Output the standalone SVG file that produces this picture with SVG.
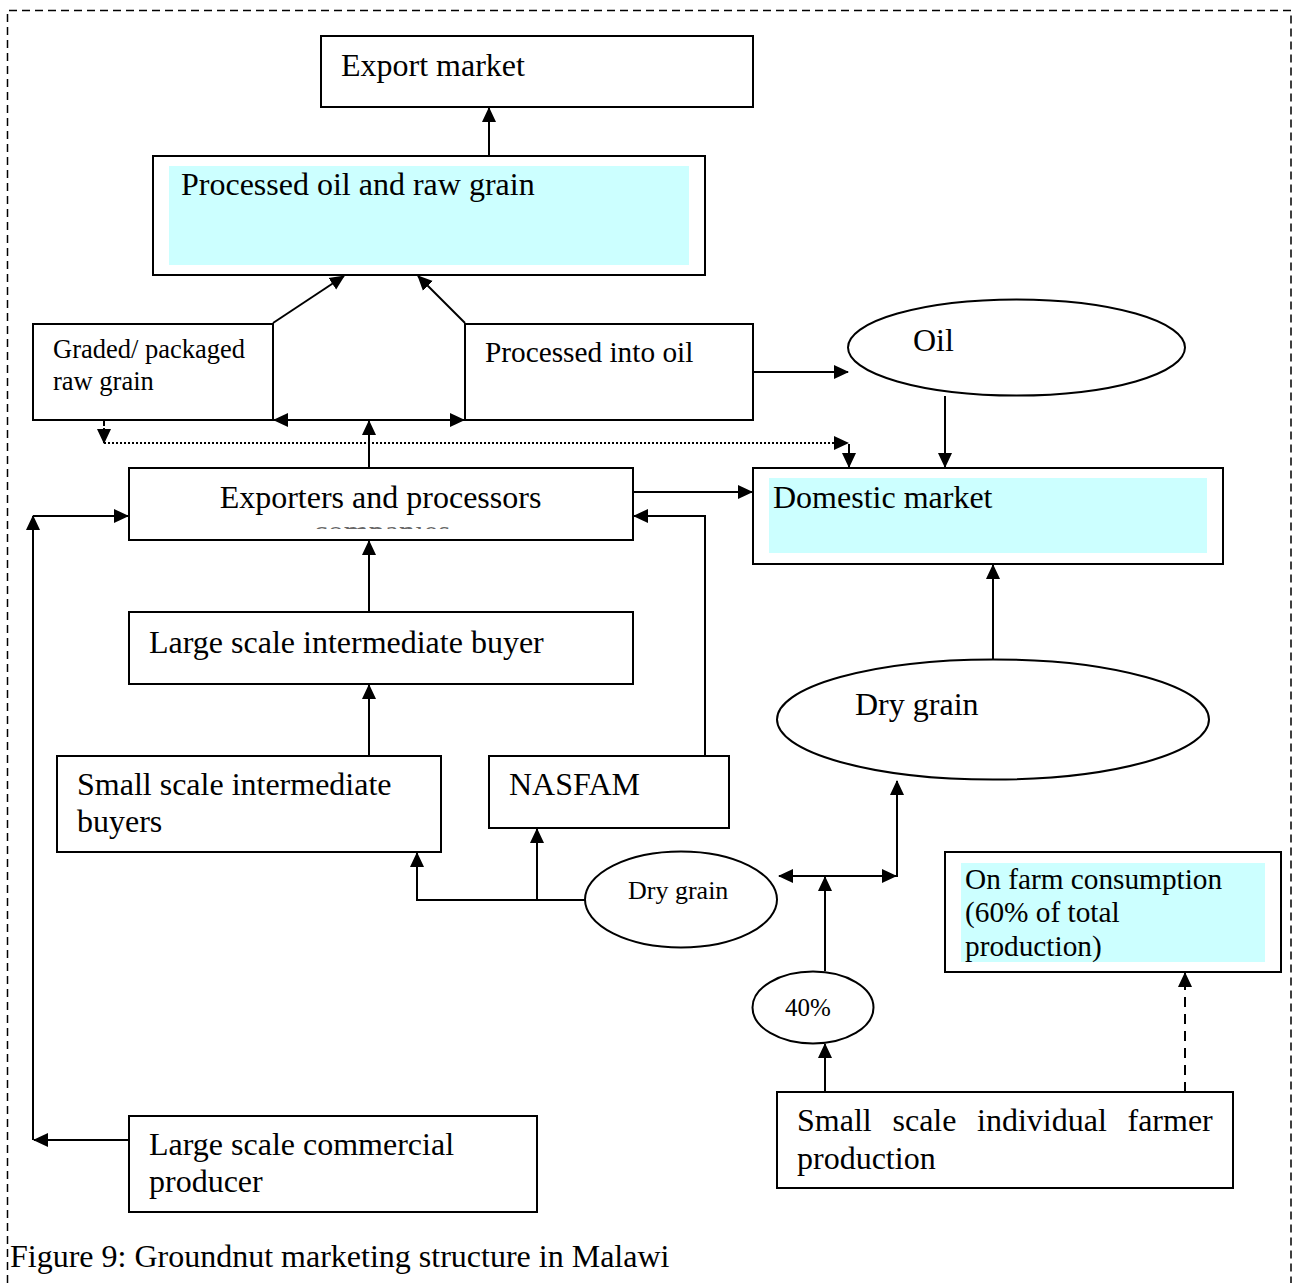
<svg xmlns="http://www.w3.org/2000/svg" width="1298" height="1283" viewBox="0 0 1298 1283">
<style>
  .box{fill:#fff;stroke:#000;stroke-width:2}
  .hl{fill:#ccffff;stroke:none}
  .ell{fill:#fff;stroke:#000;stroke-width:2}
  .t{font-family:"Liberation Serif","Times New Roman",serif;font-size:32px;fill:#000}
  .s{font-size:26px}
  .m{font-size:29.3px}
  .c{fill:none;stroke:#000;stroke-width:2}
  .dot{fill:none;stroke:#000;stroke-width:2;stroke-dasharray:2 2}
  .dash{fill:none;stroke:#000;stroke-width:2;stroke-dasharray:10 7}
  .frame{fill:none;stroke:#000;stroke-width:1.5;stroke-dasharray:8 5}
</style>
<defs>
  <marker id="a" markerUnits="userSpaceOnUse" viewBox="0 0 15 15" markerWidth="15" markerHeight="15" refX="14" refY="7.5" orient="auto-start-reverse">
    <path d="M0,0.5 L15,7.5 L0,14.5 z" fill="#000"/>
  </marker>
  <clipPath id="clipComp"><rect x="129" y="525" width="504" height="4"/></clipPath>
</defs>
<rect width="1298" height="1283" fill="#fff"/>
<path class="frame" d="M7.5,1283 V10.5 H1291 V1283"/>

<g id="export-market">
  <rect class="box" x="321" y="36" width="432" height="71"/>
  <text class="t" x="341" y="76">Export market</text>
</g>
<g id="processed-oil-raw-grain">
  <rect class="box" x="153" y="156" width="552" height="119"/>
  <rect class="hl" x="169" y="166" width="520" height="99"/>
  <text class="t" x="181" y="195">Processed oil and raw grain</text>
</g>
<g id="graded-packaged">
  <rect class="box" x="33" y="324" width="240" height="96"/>
  <text class="t" style="font-size:26.5px" x="53" y="358">Graded/ packaged</text>
  <text class="t" style="font-size:26.5px" x="53" y="390">raw grain</text>
</g>
<g id="processed-into-oil">
  <rect class="box" x="465" y="324" width="288" height="96"/>
  <text class="t m" x="485" y="362">Processed into oil</text>
</g>
<g id="oil">
  <ellipse class="ell" cx="1016.5" cy="347.5" rx="168.5" ry="48"/>
  <text class="t" x="913" y="351">Oil</text>
</g>
<g id="exporters-processors">
  <rect class="box" x="129" y="468" width="504" height="72"/>
  <text class="t" x="380.5" y="508" text-anchor="middle">Exporters and processors</text>
  <text class="t" x="382" y="542" text-anchor="middle" clip-path="url(#clipComp)" fill-opacity="0.6">companies</text>
</g>
<g id="domestic-market">
  <rect class="box" x="753" y="468" width="470" height="96"/>
  <rect class="hl" x="769" y="478" width="438" height="75"/>
  <text class="t" x="773" y="508">Domestic market</text>
</g>
<g id="large-scale-intermediate-buyer">
  <rect class="box" x="129" y="612" width="504" height="72"/>
  <text class="t" x="149" y="653">Large scale intermediate buyer</text>
</g>
<g id="small-scale-intermediate-buyers">
  <rect class="box" x="57" y="756" width="384" height="96"/>
  <text class="t" x="77" y="795">Small scale intermediate</text>
  <text class="t" x="77" y="832">buyers</text>
</g>
<g id="nasfam">
  <rect class="box" x="489" y="756" width="240" height="72"/>
  <text class="t" x="509" y="795">NASFAM</text>
</g>
<g id="dry-grain-large">
  <ellipse class="ell" cx="993" cy="719.5" rx="216" ry="60"/>
  <text class="t" x="855" y="715">Dry grain</text>
</g>
<g id="dry-grain-small">
  <ellipse class="ell" cx="681" cy="899.5" rx="96" ry="48"/>
  <text class="t s" x="628" y="899">Dry grain</text>
</g>
<g id="on-farm-consumption">
  <rect class="box" x="945" y="852" width="336" height="120"/>
  <rect class="hl" x="961" y="863" width="304" height="99"/>
  <text class="t m" x="965" y="889">On farm consumption</text>
  <text class="t m" x="965" y="922">(60% of total</text>
  <text class="t m" x="965" y="956">production)</text>
</g>
<g id="forty-percent">
  <ellipse class="ell" cx="813" cy="1007.5" rx="60.5" ry="36"/>
  <text class="t" style="font-size:25px" x="785" y="1016">40%</text>
</g>
<g id="small-scale-individual-farmer">
  <rect class="box" x="777" y="1092" width="456" height="96"/>
  <text class="t" y="1131"><tspan x="797">Small</tspan><tspan x="892.5">scale</tspan><tspan x="977">individual</tspan><tspan x="1127.5">farmer</tspan></text>
  <text class="t" x="797" y="1169">production</text>
</g>
<g id="large-scale-commercial-producer">
  <rect class="box" x="129" y="1116" width="408" height="96"/>
  <text class="t" x="149" y="1155">Large scale commercial</text>
  <text class="t" x="149" y="1192">producer</text>
</g>

<g id="connectors">
  <line class="c" x1="489" y1="156" x2="489" y2="108" marker-end="url(#a)"/>
  <line class="c" x1="273" y1="323" x2="344" y2="276" marker-end="url(#a)"/>
  <line class="c" x1="465" y1="323" x2="418" y2="276" marker-end="url(#a)"/>
  <line class="c" x1="274" y1="420" x2="464" y2="420" marker-start="url(#a)" marker-end="url(#a)"/>
  <line class="c" x1="369" y1="468" x2="369" y2="421" marker-end="url(#a)"/>
  <line class="c" x1="753" y1="372" x2="848" y2="372" marker-end="url(#a)"/>
  <line class="c" x1="945" y1="396" x2="945" y2="467" marker-end="url(#a)"/>
  <line class="dash" x1="104" y1="421" x2="104" y2="426" stroke-dasharray="3 3"/>
  <line class="c" x1="104" y1="428" x2="104" y2="443" marker-end="url(#a)" stroke-width="0.1"/>
  <path class="dot" d="M104,443 H848" marker-end="url(#a)"/>
  <line class="c" x1="849" y1="444" x2="849" y2="467" marker-end="url(#a)"/>
  <line class="c" x1="633" y1="492" x2="752" y2="492" marker-end="url(#a)"/>
  <path class="c" d="M705,756 V516 H634" marker-end="url(#a)"/>
  <line class="c" x1="369" y1="612" x2="369" y2="541" marker-end="url(#a)"/>
  <line class="c" x1="369" y1="756" x2="369" y2="685" marker-end="url(#a)"/>
  <path class="c" d="M129,1140 H34"/>
  <line class="c" x1="50" y1="1140" x2="34" y2="1140" marker-end="url(#a)"/>
  <line class="c" x1="33" y1="1140" x2="33" y2="516" marker-end="url(#a)"/>
  <line class="c" x1="33" y1="516" x2="128" y2="516" marker-end="url(#a)"/>
  <path class="c" d="M585,900 H417 V853" marker-end="url(#a)"/>
  <line class="c" x1="537" y1="900" x2="537" y2="829" marker-end="url(#a)"/>
  <line class="c" x1="779" y1="876" x2="896" y2="876" marker-start="url(#a)" marker-end="url(#a)"/>
  <line class="c" x1="825" y1="971" x2="825" y2="877" marker-end="url(#a)"/>
  <path class="c" d="M896,876 H897 V781" marker-end="url(#a)"/>
  <line class="c" x1="993" y1="659" x2="993" y2="565" marker-end="url(#a)"/>
  <line class="c" x1="825" y1="1092" x2="825" y2="1044" marker-end="url(#a)"/>
  <line class="dash" x1="1185" y1="1092" x2="1185" y2="988"/>
  <line class="c" x1="1185" y1="988" x2="1185" y2="973" marker-end="url(#a)" stroke-width="0.1"/>
</g>

<text class="t" x="10" y="1267">Figure 9: Groundnut marketing structure in Malawi</text>
</svg>
